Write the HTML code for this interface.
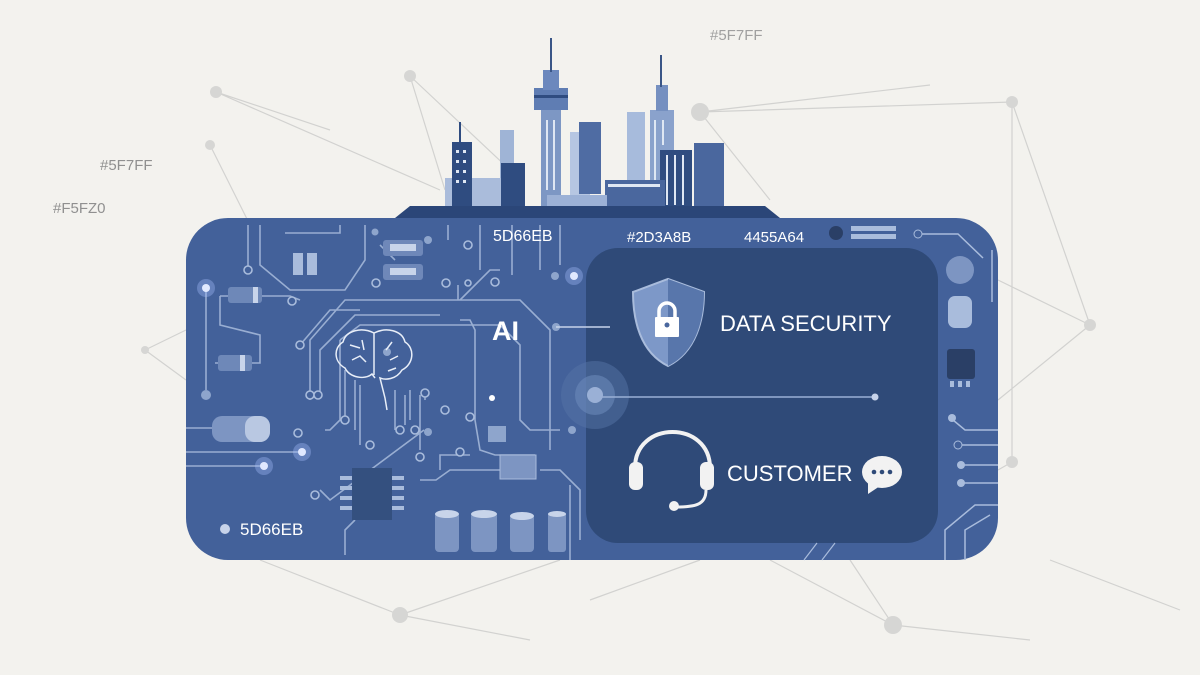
<!DOCTYPE html>
<html><head><meta charset="utf-8"><style>
html,body{margin:0;padding:0;background:#f3f2ee;}
svg{display:block}
text{font-family:"Liberation Sans",sans-serif}
</style></head><body>
<svg width="1200" height="675" viewBox="0 0 1200 675" xmlns="http://www.w3.org/2000/svg">
<rect width="1200" height="675" fill="#f3f2ee"/>
<g stroke="#d2d2d0" stroke-width="1.2" fill="none">
<path d="M216 92 L440 190 M216 92 L330 130 M410 76 L510 170 M410 76 L445 190 M210 145 L250 225 M145 350 L186 330 M145 350 L186 380 M700 112 L930 85 M700 112 L1012 102 M1012 102 L1090 325 M1012 102 L1012 462 M1090 325 L998 280 M1090 325 L998 400 M1012 462 L998 470 M700 112 L770 200 M400 615 L560 560 M400 615 L260 560 M400 615 L530 640 M893 625 L1030 640 M893 625 L850 560 M770 560 L893 625 M590 600 L700 560 M1180 610 L1050 560"/>
</g>
<g fill="#d6d6d4">
<circle cx="216" cy="92" r="6"/><circle cx="410" cy="76" r="6"/><circle cx="210" cy="145" r="5"/><circle cx="700" cy="112" r="9"/><circle cx="1012" cy="102" r="6"/><circle cx="1090" cy="325" r="6"/><circle cx="1012" cy="462" r="6"/><circle cx="400" cy="615" r="8"/><circle cx="893" cy="625" r="9"/><circle cx="145" cy="350" r="4"/>
</g>
<text x="710" y="40" font-size="15" fill="#a0a0a0">#5F7FF</text>
<text x="100" y="170" font-size="15" fill="#909090">#5F7FF</text>
<text x="53" y="213" font-size="15" fill="#909090">#F5FZ0</text>
<!-- skyline -->
<g>
<rect x="500" y="130" width="14" height="80" fill="#9fb4d6"/>
<rect x="627" y="112" width="18" height="95" fill="#a7bbdc"/>
<rect x="570" y="132" width="20" height="80" fill="#b6c6e2"/>
<rect x="445" y="178" width="60" height="30" fill="#aabcdb"/>
<rect x="452" y="142" width="20" height="68" fill="#2f4c80"/>
<rect x="459" y="122" width="2" height="22" fill="#2f4c80"/>
<rect x="501" y="163" width="24" height="47" fill="#2f4c80"/>
<rect x="541" y="110" width="20" height="100" fill="#7d97c4"/>
<rect x="534" y="88" width="34" height="22" fill="#5f7db3"/>
<rect x="534" y="95" width="34" height="3" fill="#2f4c80"/>
<rect x="543" y="70" width="16" height="20" fill="#6c88bd"/>
<rect x="550" y="38" width="2" height="34" fill="#3a5687"/>
<rect x="579" y="122" width="22" height="72" fill="#4f6ca3"/>
<rect x="650" y="110" width="24" height="100" fill="#8aa2cc"/>
<rect x="656" y="85" width="12" height="26" fill="#7590c0"/>
<rect x="660" y="55" width="2" height="32" fill="#3a5687"/>
<rect x="660" y="150" width="32" height="60" fill="#2f4c80"/>
<rect x="694" y="143" width="30" height="67" fill="#4a679e"/>
<rect x="605" y="180" width="60" height="30" fill="#4a679e"/>
<rect x="547" y="195" width="60" height="15" fill="#9cb1d6"/>
<g fill="#dfe7f3">
<rect x="456" y="150" width="3" height="3"/><rect x="463" y="150" width="3" height="3"/><rect x="456" y="160" width="3" height="3"/><rect x="463" y="160" width="3" height="3"/><rect x="456" y="170" width="3" height="3"/><rect x="463" y="170" width="3" height="3"/><rect x="456" y="180" width="3" height="3"/><rect x="463" y="180" width="3" height="3"/>
<rect x="608" y="184" width="52" height="3"/><rect x="666" y="155" width="2" height="50"/><rect x="674" y="155" width="2" height="50"/><rect x="682" y="155" width="2" height="50"/>
<rect x="546" y="120" width="2" height="70"/><rect x="553" y="120" width="2" height="70"/><rect x="654" y="120" width="2" height="60"/><rect x="662" y="120" width="2" height="25"/>
</g>
<path d="M395 218 L410 206 L765 206 L780 218 Z" fill="#2b4678"/>
</g>
<!-- board -->
<rect x="186" y="218" width="812" height="342" rx="42" fill="#43619a"/>
<g stroke="#a9bcdc" stroke-width="1.6" fill="none" opacity="0.85">
<path d="M260 225 L260 265 L290 290 L345 290 L365 260 L365 225"/>
<path d="M285 233 L340 233 L340 225"/>
<path d="M248 225 L248 270"/>
<path d="M206 288 L206 390"/>
<path d="M220 296 L290 296 L300 300"/>
<path d="M220 296 L220 325 L260 335 L260 363 L215 363"/>
<path d="M186 428 L215 428 M186 452 L300 452 M186 466 L265 466"/>
<path d="M300 345 L330 310 L360 310 M310 400 L310 340 L345 300 L520 300 L550 330 L550 450"/>
<path d="M320 395 L320 350 L355 315 L440 315 M325 430 L330 430 L340 420 L340 340"/>
<path d="M340 340 L360 325 L500 325 L520 345 L520 420 L530 430 L560 430"/>
<path d="M345 420 L345 370 M355 430 L355 380 M360 445 L360 385 M395 430 L395 390 M405 425 L405 395 M410 420 L410 390 M420 450 L420 395 M425 390 L425 400"/>
<path d="M460 320 L470 320 L475 330 L475 420 L480 450 L495 455 L535 455"/>
<path d="M440 470 L440 455 L470 455 M458 300 L458 285 M424 430 L330 500 L320 490"/>
<path d="M395 260 L380 245 M460 300 L490 270 L500 270"/>
<path d="M480 225 L480 270 M448 225 L448 240 M512 225 L512 275"/>
<path d="M540 225 L540 270 M560 225 L560 265"/>
<path d="M420 480 L436 480 L450 470 L520 470 M540 470 L560 470 L580 490 L580 540 M570 485 L570 560"/>
<path d="M345 555 L345 530 L355 520"/>
</g>
<g fill="#43619a" stroke="#a9bcdc" stroke-width="1.6">
<circle cx="248" cy="270" r="4"/><circle cx="292" cy="301" r="4"/><circle cx="298" cy="433" r="4"/><circle cx="300" cy="345" r="4"/><circle cx="310" cy="395" r="4"/><circle cx="318" cy="395" r="4"/><circle cx="345" cy="420" r="4"/><circle cx="425" cy="393" r="4"/><circle cx="370" cy="445" r="4"/><circle cx="400" cy="430" r="4"/><circle cx="420" cy="457" r="4"/><circle cx="470" cy="417" r="4"/><circle cx="460" cy="452" r="4"/><circle cx="315" cy="495" r="4"/><circle cx="376" cy="283" r="4"/><circle cx="446" cy="283" r="4"/><circle cx="468" cy="283" r="3"/><circle cx="445" cy="410" r="4"/><circle cx="415" cy="430" r="4"/><circle cx="468" cy="245" r="4"/><circle cx="495" cy="282" r="4"/>
</g>
<g fill="#8ea5cc"><circle cx="206" cy="395" r="5"/><circle cx="387" cy="352" r="4"/><circle cx="428" cy="432" r="4"/><circle cx="572" cy="430" r="4"/><circle cx="375" cy="232" r="3.5"/><circle cx="428" cy="240" r="4"/><circle cx="555" cy="276" r="4"/></g>
<rect x="293" y="253" width="10" height="22" fill="#a9bcdc"/><rect x="307" y="253" width="10" height="22" fill="#a9bcdc"/>
<rect x="228" y="287" width="34" height="16" rx="3" fill="#6e88b8"/><rect x="253" y="287" width="5" height="16" fill="#c8d4ea"/>
<rect x="218" y="355" width="34" height="16" rx="3" fill="#6e88b8"/><rect x="240" y="355" width="5" height="16" fill="#c8d4ea"/>
<rect x="212" y="416" width="58" height="26" rx="10" fill="#7d95c2"/><rect x="245" y="416" width="25" height="26" rx="10" fill="#b9c8e2"/>
<rect x="383" y="240" width="40" height="16" rx="3" fill="#6f88b9"/><rect x="390" y="244" width="26" height="7" fill="#c8d4ea"/>
<rect x="383" y="264" width="40" height="16" rx="3" fill="#6f88b9"/><rect x="390" y="268" width="26" height="7" fill="#c8d4ea"/>
<rect x="488" y="426" width="18" height="16" fill="#8ea5cc"/>
<rect x="500" y="455" width="36" height="24" fill="#7d95c2" stroke="#a9bcdc"/>
<rect x="352" y="468" width="40" height="52" fill="#34507f"/>
<g fill="#a9bcdc"><rect x="340" y="476" width="12" height="4"/><rect x="340" y="486" width="12" height="4"/><rect x="340" y="496" width="12" height="4"/><rect x="340" y="506" width="12" height="4"/><rect x="392" y="476" width="12" height="4"/><rect x="392" y="486" width="12" height="4"/><rect x="392" y="496" width="12" height="4"/><rect x="392" y="506" width="12" height="4"/></g>
<g fill="#7d95c2"><rect x="435" y="512" width="24" height="40" rx="4"/><rect x="471" y="512" width="26" height="40" rx="4"/><rect x="510" y="514" width="24" height="38" rx="4"/><rect x="548" y="512" width="18" height="40" rx="3"/></g>
<g fill="#c8d4ea"><ellipse cx="447" cy="514" rx="12" ry="4"/><ellipse cx="484" cy="514" rx="13" ry="4"/><ellipse cx="522" cy="516" rx="12" ry="4"/><ellipse cx="557" cy="514" rx="9" ry="3"/></g>
<g stroke="#e8eef8" stroke-width="1.5" fill="none">
<path d="M374 333 C362 327 346 330 343 342 C333 348 334 362 345 368 C350 378 365 380 372 374 L375 378 M374 333 C386 327 402 330 405 342 C415 348 414 364 402 370 C396 380 385 380 380 378 L385 398 L387 410 M374 333 L374 375"/>
<path d="M350 345 l10 3 M352 360 l8 -4 l6 6 M392 342 l-6 8 M390 360 l8 -4 M362 340 l2 10 M396 368 l-8 3"/>
</g>
<circle cx="960" cy="270" r="14" fill="#7d95c2"/>
<rect x="948" y="296" width="24" height="32" rx="7" fill="#a9bcdc"/>
<rect x="947" y="349" width="28" height="30" rx="3" fill="#2a3f66"/>
<g fill="#a9bcdc"><rect x="950" y="381" width="4" height="6"/><rect x="958" y="381" width="4" height="6"/><rect x="966" y="381" width="4" height="6"/></g>
<g stroke="#a9bcdc" stroke-width="1.5" fill="none"><path d="M920 234 L958 234 L983 258 M992 250 L992 302 M953 420 L965 430 L998 430 M960 445 L998 445 M960 465 L998 465 M960 483 L998 483 M945 560 L945 530 L975 505 L998 505 M965 560 L965 530 L990 515"/></g>
<g fill="#a9bcdc"><circle cx="952" cy="418" r="4"/><circle cx="961" cy="465" r="4"/><circle cx="961" cy="483" r="4"/></g>
<circle cx="958" cy="445" r="4" fill="#43619a" stroke="#a9bcdc"/>
<circle cx="918" cy="234" r="4" fill="#43619a" stroke="#a9bcdc"/>
<rect x="586" y="248" width="352" height="295" rx="32" fill="#2f4a78"/>
<circle cx="595" cy="395" r="34" fill="#5673a5" opacity="0.5"/>
<circle cx="595" cy="395" r="20" fill="#6b88b9" opacity="0.6"/>
<circle cx="595" cy="395" r="8" fill="#9ab0d6"/>
<line x1="597" y1="397" x2="875" y2="397" stroke="#9ab0d6" stroke-width="1.5"/>
<circle cx="875" cy="397" r="3.5" fill="#c7d3ea"/>
<g fill="#ffffff"><circle cx="206" cy="288" r="4"/><circle cx="302" cy="452" r="4"/><circle cx="264" cy="466" r="4"/><circle cx="574" cy="276" r="4"/><circle cx="492" cy="398" r="3"/></g>
<g fill="#a9c0ff" opacity="0.35"><circle cx="206" cy="288" r="9"/><circle cx="302" cy="452" r="9"/><circle cx="264" cy="466" r="9"/><circle cx="574" cy="276" r="9"/></g>
<text x="492" y="340" font-size="27" font-weight="bold" fill="#ffffff">AI</text>
<circle cx="556" cy="327" r="4" fill="#8ea5cc"/>
<line x1="556" y1="327" x2="610" y2="327" stroke="#c7d3ea" stroke-width="1.5"/>
<text x="493" y="241" font-size="16" fill="#ffffff">5D66EB</text>
<text x="627" y="242" font-size="15" fill="#ffffff">#2D3A8B</text>
<text x="744" y="242" font-size="15" fill="#ffffff">4455A64</text>
<circle cx="836" cy="233" r="7" fill="#2a3f66"/>
<rect x="851" y="226" width="45" height="5" fill="#a9bcdc"/><rect x="851" y="234" width="45" height="5" fill="#a9bcdc"/>
<circle cx="225" cy="529" r="5" fill="#c7d3ea"/>
<text x="240" y="535" font-size="17" fill="#ffffff">5D66EB</text>
<path d="M668 279 L704 292 C704 320 696 352 668 366 C640 352 633 320 633 292 Z" fill="#7d98c8" stroke="#a9bcdc" stroke-width="2"/>
<path d="M668 279 L704 292 C704 320 696 352 668 366 Z" fill="#5876ab"/>
<rect x="655" y="317" width="24" height="20" rx="1" fill="#ffffff"/>
<path d="M659 317 v-6 a8 8 0 0 1 16 0 v6" stroke="#ffffff" stroke-width="3.5" fill="none"/>
<circle cx="667" cy="325" r="2.5" fill="#4a679e"/>
<text x="720" y="331" font-size="22" fill="#ffffff">DATA SECURITY</text>
<path d="M635 468 C635 420 710 420 710 468" stroke="#f2f2f2" stroke-width="4" fill="none"/>
<rect x="629" y="462" width="14" height="28" rx="6" fill="#f2f2f2"/>
<rect x="700" y="462" width="14" height="28" rx="6" fill="#f2f2f2"/>
<path d="M706 490 C706 505 695 507 676 507" stroke="#f2f2f2" stroke-width="3" fill="none"/>
<circle cx="674" cy="506" r="5" fill="#f2f2f2"/>
<text x="727" y="481" font-size="22" fill="#ffffff">CUSTOMER</text>
<ellipse cx="882" cy="472" rx="20" ry="16" fill="#f2f2f2"/>
<path d="M868 482 L868 494 L880 486 Z" fill="#f2f2f2"/>
<g fill="#2f4a78"><circle cx="874" cy="472" r="2.3"/><circle cx="882" cy="472" r="2.3"/><circle cx="890" cy="472" r="2.3"/></g>
<g stroke="#a9bcdc" stroke-width="1.2"><line x1="804" y1="560" x2="817" y2="543"/><line x1="822" y1="560" x2="835" y2="543"/></g>
</svg>
</body></html>
